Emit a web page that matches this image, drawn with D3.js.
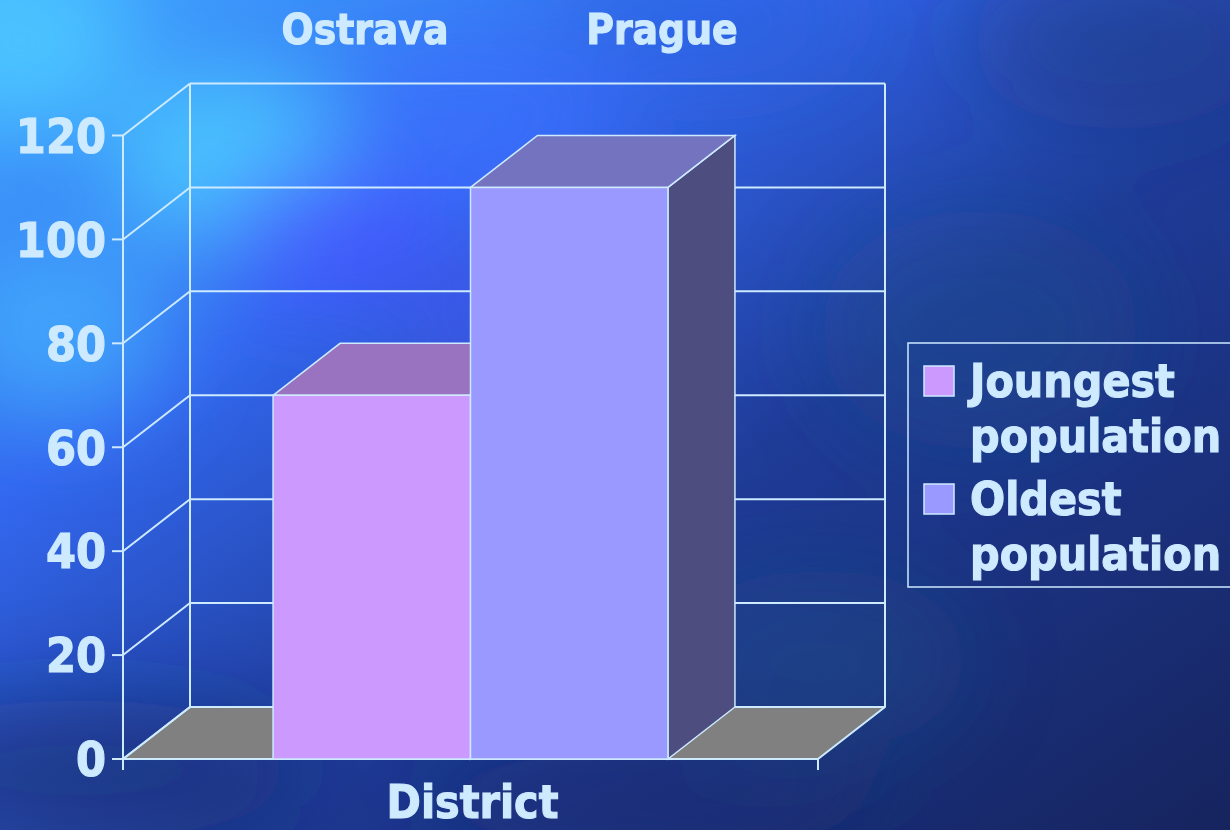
<!DOCTYPE html>
<html>
<head>
<meta charset="utf-8">
<script src="https://cdn.jsdelivr.net/npm/d3@7"></script>
<style>
  body { margin: 0; background: #1a2a6a; }
  svg text { font-family: "DejaVu Sans Condensed", "DejaVu Sans", sans-serif; font-stretch: condensed; font-weight: bold; fill: #cdeaff; stroke: #cdeaff; stroke-width: 1.1px; }
</style>
</head>
<body>
<div id="canvas"></div>
<script>
// chart data
var categories = ["District"];
var series = ["Joungest population", "Oldest population"];
var seriesLines = [["Joungest", "population"], ["Oldest", "population"]];
var values = [70, 110];
var cities = ["Ostrava", "Prague"];
var yTicks = [0, 20, 40, 60, 80, 100, 120];

var colors = ["#cc99ff", "#9999ff"];
var cityX = [365, 662]; // where the city captions sit

var width = 1230, height = 830;
var depthX = 67, depthY = -52; // 3d offset of the back wall
var lineCol = "#cdeaff";

var svg = d3.select("#canvas").append("svg")
  .attr("width", width)
  .attr("height", height);

// ---- background: blurry blue clouds
var defs = svg.append("defs");
var bg = defs.append("linearGradient").attr("id", "bg")
  .attr("x1", 0).attr("y1", 0).attr("x2", 1).attr("y2", 1);
bg.append("stop").attr("offset", "0%").attr("stop-color", "#3fa8ff");
bg.append("stop").attr("offset", "30%").attr("stop-color", "#3368f0");
bg.append("stop").attr("offset", "58%").attr("stop-color", "#1f3c98");
bg.append("stop").attr("offset", "100%").attr("stop-color", "#16245e");
defs.append("filter").attr("id", "blur")
  .attr("x", "-50%").attr("y", "-50%").attr("width", "200%").attr("height", "200%")
  .append("feGaussianBlur").attr("stdDeviation", 45);

svg.append("rect").attr("width", width).attr("height", height).attr("fill", "url(#bg)");

var blobs = [
  [20, 40, 110, 90, "#4cc8ff", 0.9],
  [230, 160, 120, 90, "#4ccfff", 0.85],
  [60, 330, 110, 90, "#48c0ff", 0.6],
  [330, 230, 110, 70, "#4a50ff", 0.7],
  [470, 120, 140, 80, "#3a70ff", 0.6],
  [520, 330, 120, 80, "#4456f0", 0.6],
  [700, 20, 150, 60, "#2a60d8", 0.5],
  [980, 330, 160, 120, "#22508a", 0.35],
  [1120, 40, 150, 90, "#1a3070", 0.35],
  [80, 770, 220, 70, "#1a2a64", 0.5],
  [650, 800, 240, 50, "#1a2c70", 0.5],
  [820, 660, 150, 90, "#225a90", 0.3]
];
svg.append("g").attr("filter", "url(#blur)")
  .selectAll("ellipse").data(blobs).enter().append("ellipse")
  .attr("cx", d => d[0]).attr("cy", d => d[1])
  .attr("rx", d => d[2]).attr("ry", d => d[3])
  .attr("fill", d => d[4]).attr("opacity", d => d[5]);

// ---- scales
var x0 = d3.scaleBand().domain(categories).range([123, 818]).paddingInner(0).paddingOuter(0.38);
var x1 = d3.scaleBand().domain(series).range([0, x0.bandwidth()]);
var y = d3.scaleLinear().domain([0, 120]).range([759, 135.5]);

var xl = x0.range()[0], xr = x0.range()[1];
var g = svg.append("g");

// floor
var floorPts = [[xl, y(0)], [xr, y(0)], [xr + depthX, y(0) + depthY], [xl + depthX, y(0) + depthY]];
g.append("path")
  .attr("d", "M" + floorPts.join("L") + "Z")
  .attr("fill", "#808080")
  .attr("stroke", lineCol).attr("stroke-width", 2).attr("stroke-linejoin", "round");

// back wall grid
g.selectAll(".backgrid").data(yTicks).enter().append("line")
  .attr("x1", xl + depthX).attr("x2", xr + depthX)
  .attr("y1", d => y(d) + depthY).attr("y2", d => y(d) + depthY)
  .attr("stroke", lineCol).attr("stroke-width", 2);
g.selectAll(".sidegrid").data(yTicks).enter().append("line")
  .attr("x1", xl).attr("x2", xl + depthX)
  .attr("y1", d => y(d)).attr("y2", d => y(d) + depthY)
  .attr("stroke", lineCol).attr("stroke-width", 2);
[xl + depthX, xr + depthX].forEach(xx => {
  g.append("line")
    .attr("x1", xx).attr("x2", xx)
    .attr("y1", y(120) + depthY).attr("y2", y(0) + depthY)
    .attr("stroke", lineCol).attr("stroke-width", 2);
});

// axes
g.append("line").attr("x1", xl).attr("x2", xl).attr("y1", y(120)).attr("y2", y(0) + 11)
  .attr("stroke", lineCol).attr("stroke-width", 2);
g.append("line").attr("x1", xl).attr("x2", xr).attr("y1", y(0)).attr("y2", y(0))
  .attr("stroke", lineCol).attr("stroke-width", 2);
g.append("line").attr("x1", xr).attr("x2", xr).attr("y1", y(0)).attr("y2", y(0) + 11)
  .attr("stroke", lineCol).attr("stroke-width", 2);
g.selectAll(".ytick").data(yTicks).enter().append("line")
  .attr("x1", xl - 11).attr("x2", xl)
  .attr("y1", d => y(d)).attr("y2", d => y(d))
  .attr("stroke", lineCol).attr("stroke-width", 2);
g.selectAll(".ylab").data(yTicks).enter().append("text")
  .attr("x", 106).attr("y", d => y(d)).attr("dy", "0.36em")
  .attr("text-anchor", "end")
  .style("font-size", "48px")
  .text(d => d);

// ---- bars (3d boxes)
var bars = g.selectAll(".bar").data(values).enter().append("g");
bars.each(function(v, i) {
  var b = d3.select(this);
  var bx = x0(categories[0]) + x1(series[i]);
  var bw = x1.bandwidth();
  var top = y(v), base = y(0);
  var c = d3.color(colors[i]);
  var dark = (k) => d3.rgb(c.r * k, c.g * k, c.b * k);
  // side
  b.append("path")
    .attr("d", "M" + [[bx + bw, top], [bx + bw + depthX, top + depthY], [bx + bw + depthX, base + depthY], [bx + bw, base]].join("L") + "Z")
    .attr("fill", dark(0.5)).attr("stroke", lineCol).attr("stroke-width", 1.5);
  // top
  b.append("path")
    .attr("d", "M" + [[bx, top], [bx + depthX, top + depthY], [bx + bw + depthX, top + depthY], [bx + bw, top]].join("L") + "Z")
    .attr("fill", dark(0.75)).attr("stroke", lineCol).attr("stroke-width", 1.5);
  // front
  b.append("rect")
    .attr("x", bx).attr("y", top).attr("width", bw).attr("height", base - top)
    .attr("fill", colors[i]).attr("stroke", lineCol).attr("stroke-width", 1.5);
});

// category title
g.append("text")
  .attr("x", x0(categories[0]) + x0.bandwidth() / 2 + 2).attr("y", 818)
  .attr("text-anchor", "middle")
  .style("font-size", "46px")
  .text(categories[0]);

// city captions
svg.selectAll(".city").data(cities).enter().append("text")
  .attr("x", (d, i) => cityX[i]).attr("y", 44)
  .attr("text-anchor", "middle")
  .style("font-size", "42px")
  .text(d => d);

// ---- legend
var legend = svg.append("g");
legend.append("rect")
  .attr("x", 908).attr("y", 343).attr("width", 340).attr("height", 244)
  .attr("fill", "none").attr("stroke", lineCol).attr("stroke-width", 1.5);
var items = legend.selectAll(".item").data(series).enter().append("g")
  .attr("transform", (d, i) => "translate(0," + (i * 118) + ")");
items.append("rect")
  .attr("x", 924).attr("y", 366).attr("width", 30).attr("height", 30)
  .attr("fill", (d, i) => colors[i]).attr("stroke", lineCol).attr("stroke-width", 1.5);
items.each(function(d, i) {
  var t = d3.select(this).append("text")
    .attr("x", 970).attr("y", 397)
    .style("font-size", "46px");
  seriesLines[i].forEach((ln, j) => {
    t.append("tspan").attr("x", 970).attr("dy", j === 0 ? 0 : 55).text(ln);
  });
});
</script>
</body>
</html>
